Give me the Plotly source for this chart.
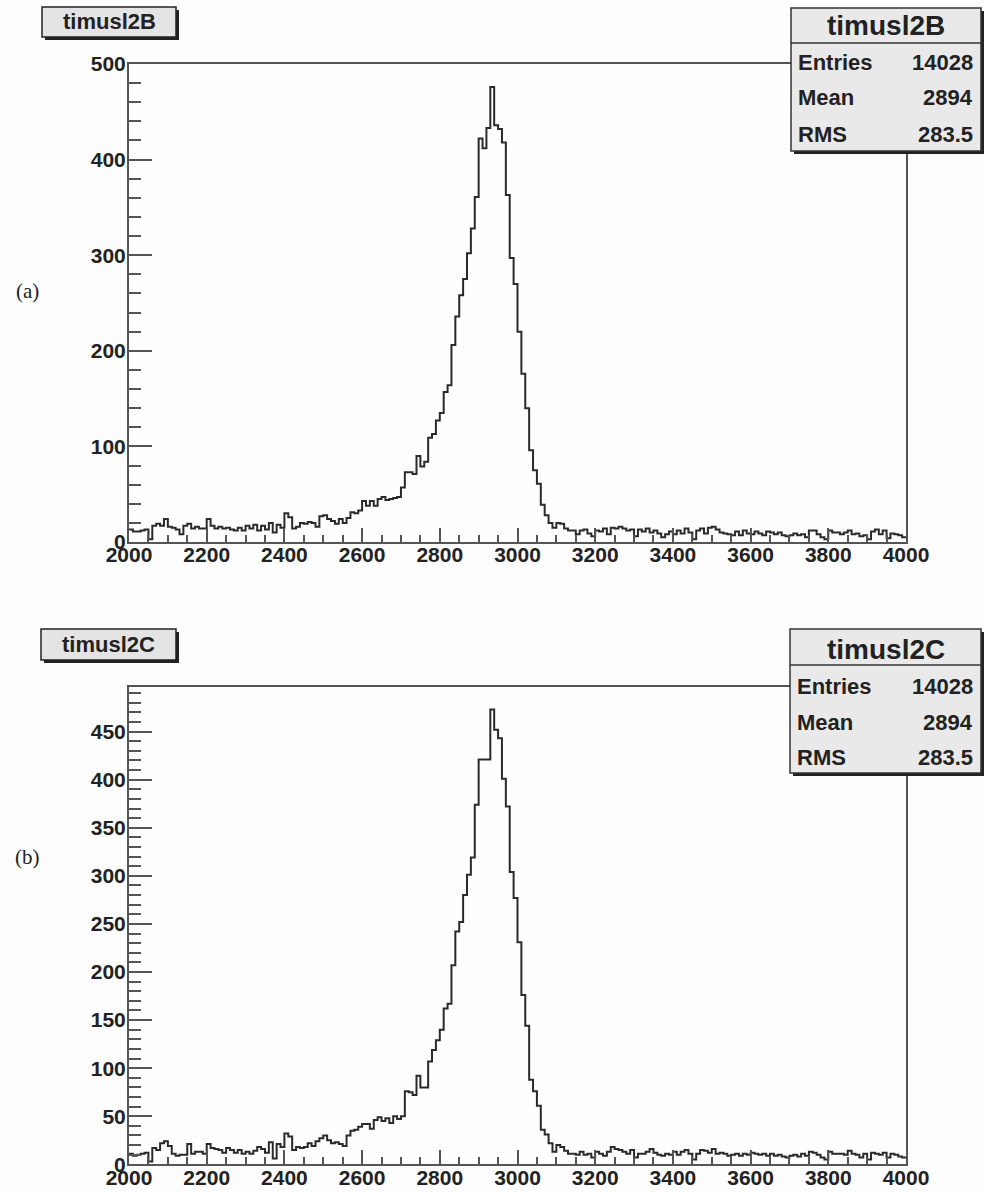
import numpy as np
import plotly.graph_objects as go

W, H = 984, 1193

# ---- histogram contents: 200 bins of width 10 between 2000 and 4000 ----
x_lo, x_hi, bin_w = 2000, 4000, 10

counts_2b = [
    13, 11, 11, 12, 13, 3, 17, 19, 17, 24,
    16, 15, 13, 8, 17, 19, 14, 16, 14, 14,
    24, 17, 14, 16, 14, 15, 13, 12, 15, 12,
    17, 14, 18, 12, 17, 13, 20, 10, 18, 15,
    30, 26, 14, 16, 20, 19, 21, 20, 16, 27,
    28, 24, 22, 19, 24, 20, 25, 31, 30, 33,
    43, 38, 43, 38, 45, 47, 44, 45, 46, 47,
    57, 73, 73, 71, 90, 79, 84, 109, 113, 127,
    135, 157, 164, 206, 236, 258, 275, 302, 328, 361,
    422, 412, 433, 476, 436, 432, 418, 363, 297, 270,
    220, 176, 140, 96, 75, 61, 39, 28, 20, 15,
    20, 19, 14, 12, 12,
    8, 12, 13, 9, 6, 12, 11, 14, 8, 15,
    14, 16, 14, 12, 13, 6, 13, 11, 14, 10,
    12, 9, 5, 8, 11, 8, 12, 9, 14, 10,
    3, 12, 14, 9, 15, 16, 13, 10, 9, 8,
    7, 11, 7, 12, 9, 8, 11, 9, 7, 11,
    10, 8, 10, 7, 6, 7, 9, 7, 8, 5,
    12, 12, 8, 5, 3, 12, 10, 10, 8, 10,
    12, 8, 9, 6, 7, 3, 11, 13, 8, 12,
    4, 9, 8, 7, 5,
]

counts_2c = [
    11, 9, 10, 11, 12, 3, 17, 15, 22, 24,
    19, 11, 9, 10, 10, 21, 11, 13, 13, 11,
    21, 17, 16, 15, 12, 17, 15, 12, 15, 11,
    13, 11, 14, 18, 16, 12, 23, 6, 21, 18,
    32, 29, 15, 18, 17, 18, 22, 19, 24, 27,
    30, 25, 22, 23, 21, 19, 30, 35, 36, 39,
    42, 42, 37, 46, 49, 45, 48, 43, 50, 47,
    50, 76, 75, 72, 92, 80, 80, 107, 119, 129,
    140, 162, 167, 207, 242, 252, 280, 301, 319, 374,
    421, 421, 421, 473, 452, 443, 401, 372, 304, 277,
    231, 176, 144, 88, 76, 61, 36, 31, 22, 13,
    20, 18, 14, 11, 11,
    10, 13, 10, 11, 7, 13, 11, 9, 13, 18,
    16, 15, 13, 11, 15, 7, 11, 11, 13, 16,
    12, 10, 9, 11, 10, 13, 10, 13, 15, 11,
    5, 11, 15, 14, 12, 16, 11, 12, 11, 9,
    10, 11, 9, 11, 10, 12, 11, 10, 11, 9,
    11, 9, 10, 8, 7, 9, 10, 8, 11, 9,
    13, 12, 10, 7, 5, 13, 11, 11, 11, 10,
    14, 11, 10, 7, 11, 5, 12, 11, 10, 12,
    7, 11, 10, 8, 7,
]

hist_names = ["timusl2B", "timusl2C"]
panel_tags = ["(a)", "(b)"]
stat_labels = ["Entries", "Mean", "RMS"]
stat_values_2b = ["14028", "2894", "283.5"]
stat_values_2c = ["14028", "2894", "283.5"]
x_ticks = list(range(2000, 4001, 200))
y_range_2b = [0, 500]
y_range_2c = [0, 496.7]

edges = np.arange(x_lo, x_hi + bin_w, bin_w)

# ---- pixel layout ----
def px(x):
    return x / W

def py(y):
    return 1 - y / H

FRAME_L, FRAME_R = 129, 906
panels = [
    dict(top=64, bottom=542, title_box=(42, 7, 176, 37), stats_box=(791, 8, 981, 151),
         stats_div=43, title_y=25, rows_y=[63, 98, 134], tag_y=291),
    dict(top=686.7, bottom=1164.3, title_box=(41, 629, 176, 660), stats_box=(790, 629, 981, 773),
         stats_div=665, title_y=650, rows_y=[686, 722, 757], tag_y=857),
]

LINE_COL = "#555555"
HIST_COL = "#2a2a2a"
FONT = "Liberation Sans"

fig = go.Figure()

all_counts = [counts_2b, counts_2c]
y_ranges = [y_range_2b, y_range_2c]
y_dticks = [(100, 20), (50, 10)]
stat_values = [stat_values_2b, stat_values_2c]

shapes = []
annotations = []

for k in range(2):
    xa = "x" if k == 0 else "x2"
    ya = "y" if k == 0 else "y2"
    c = all_counts[k]
    fig.add_trace(go.Scatter(
        x=edges, y=list(c) + [c[-1]],
        mode="lines", line=dict(shape="hv", color=HIST_COL, width=2),
        xaxis=xa, yaxis=ya, showlegend=False, hoverinfo="skip",
    ))

    p = panels[k]
    axis_common = dict(
        showline=True, linecolor=LINE_COL, linewidth=2, mirror=True,
        ticks="inside", tickcolor=LINE_COL, tickwidth=1.5,
        showgrid=False, zeroline=False, automargin=False,
        tickfont=dict(family=FONT, size=21, color="#222222", weight="bold"),
    )
    xkey = "xaxis" if k == 0 else "xaxis2"
    ykey = "yaxis" if k == 0 else "yaxis2"
    fig.update_layout({
        xkey: dict(axis_common, domain=[px(FRAME_L), px(FRAME_R)], range=[x_lo, x_hi],
                   tickvals=x_ticks, ticklen=14, ticklabelstandoff=-7,
                   minor=dict(dtick=50, tick0=2000, ticklen=7, ticks="inside",
                              tickcolor=LINE_COL, tickwidth=1.5),
                   anchor=ya),
        ykey: dict(axis_common, domain=[py(p["bottom"]), py(p["top"])], range=y_ranges[k],
                   dtick=y_dticks[k][0], tick0=0, ticklen=23, ticklabelstandoff=-3,
                   minor=dict(dtick=y_dticks[k][1], tick0=0, ticklen=12, ticks="inside",
                              tickcolor=LINE_COL, tickwidth=1.5),
                   anchor=xa),
    })

    # title box with drop shadow
    x0, y0, x1, y1 = p["title_box"]
    shapes.append(dict(type="rect", xref="paper", yref="paper", layer="above",
                       x0=px(x0 + 3), x1=px(x1 + 3), y0=py(y1 + 3), y1=py(y0 + 3),
                       fillcolor="#222222", line=dict(width=0)))
    shapes.append(dict(type="rect", xref="paper", yref="paper", layer="above",
                       x0=px(x0), x1=px(x1), y0=py(y1), y1=py(y0),
                       fillcolor="#e4e4e4", line=dict(color="#222222", width=1.5)))
    annotations.append(dict(xref="paper", yref="paper", x=px((x0 + x1) / 2), y=py((y0 + y1) / 2),
                            text="<b>%s</b>" % hist_names[k], showarrow=False,
                            xanchor="center", yanchor="middle",
                            font=dict(family=FONT, size=22, color="#222222")))

    # statistics box with drop shadow
    sx0, sy0, sx1, sy1 = p["stats_box"]
    shapes.append(dict(type="rect", xref="paper", yref="paper", layer="above",
                       x0=px(sx0 + 3), x1=px(min(sx1 + 3, W)), y0=py(sy1 + 3), y1=py(sy0 + 3),
                       fillcolor="#222222", line=dict(width=0)))
    shapes.append(dict(type="rect", xref="paper", yref="paper", layer="above",
                       x0=px(sx0), x1=px(sx1), y0=py(sy1), y1=py(sy0),
                       fillcolor="#e9e9e9", line=dict(color="#333333", width=1.5)))
    shapes.append(dict(type="line", xref="paper", yref="paper", layer="above",
                       x0=px(sx0), x1=px(sx1), y0=py(p["stats_div"]), y1=py(p["stats_div"]),
                       line=dict(color="#333333", width=1.5)))
    annotations.append(dict(xref="paper", yref="paper", x=px((sx0 + sx1) / 2), y=py(p["title_y"]),
                            text="<b>%s</b>" % hist_names[k], showarrow=False,
                            xanchor="center", yanchor="middle",
                            font=dict(family=FONT, size=28, color="#222222")))
    for lab, val, ry in zip(stat_labels, stat_values[k], p["rows_y"]):
        annotations.append(dict(xref="paper", yref="paper", x=px(sx0 + 5), y=py(ry),
                                text="<b>%s</b>" % lab, showarrow=False,
                                xanchor="left", yanchor="middle",
                                font=dict(family=FONT, size=22, color="#222222")))
        annotations.append(dict(xref="paper", yref="paper", x=px(sx1 - 6), y=py(ry),
                                text="<b>%s</b>" % val, showarrow=False,
                                xanchor="right", yanchor="middle",
                                font=dict(family=FONT, size=22, color="#222222")))

    annotations.append(dict(xref="paper", yref="paper", x=px(27), y=py(p["tag_y"]),
                            text=panel_tags[k], showarrow=False,
                            xanchor="center", yanchor="middle",
                            font=dict(family="Liberation Serif", size=21, color="#222222")))

fig.update_layout(
    width=W, height=H, autosize=False,
    margin=dict(l=0, r=0, t=0, b=0, pad=0, autoexpand=False),
    paper_bgcolor="#fdfdfd", plot_bgcolor="#fefefe",
    shapes=shapes, annotations=annotations,
    showlegend=False,
)

fig.write_html("out.html")
